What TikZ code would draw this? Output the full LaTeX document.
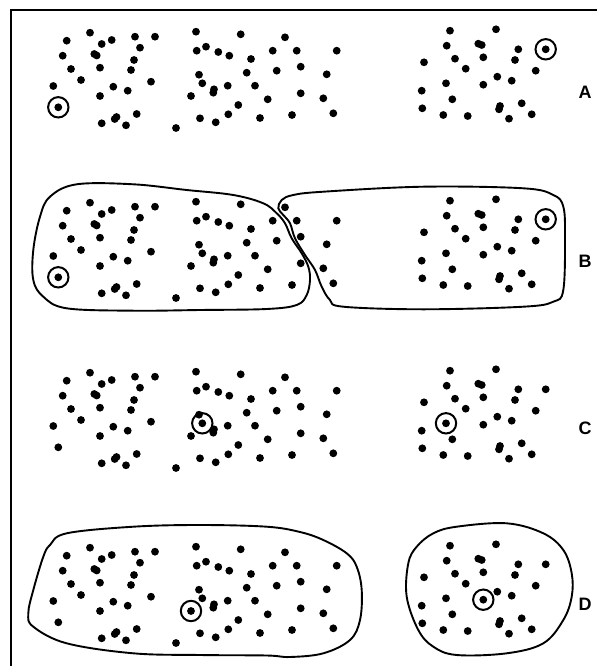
\documentclass[tikz,border=0pt]{standalone}
\usepackage{fontspec}
\setmainfont{Liberation Sans}
\begin{document}
\begin{tikzpicture}[x=1pt,y=-1pt,
  dotmark/.style={fill=black},
  ring/.style={draw=black,line width=2pt},
  blob/.style={draw=black,line width=1.9pt},
  frameline/.style={draw=black,line width=2pt},
  panellabel/.style={font=\fontsize{18}{18}\selectfont\bfseries,inner sep=0pt}]
\useasboundingbox (0,0) rectangle (597,666);
\fill[white] (0,0) rectangle (597,666);
\draw[frameline] (11,666) -- (11,10) -- (597,10);
\def\dotlist{90/32.7, 66.7/40.7, 101.7/44, 111.7/40, 135/36.7, 155/36.7, 62.7/55.7, 94.3/54, 96.7/55.5, 140/47.7, 134/60, 71/69, 100/67.7, 131/70, 81/80, 53.3/86, 113.3/86.7, 127.7/90.7, 151/81.7, 100/96, 58.3/107.3, 101.7/123.3, 114.7/119, 116.5/117, 126/125.3, 136.7/114, 176/128,
196/31.7, 196.7/50.7, 206/46.7, 218.3/52, 229.3/55.7, 240.7/34.3, 251/59, 272.7/50.7, 285/37.3, 296.7/50.7, 199/74.7, 202.3/83.3, 214/89.3, 213.3/92.7, 227.7/85.7, 246.7/72.7, 276.7/70.7, 255/85.7, 191/96, 267.7/99.3, 238.3/105, 200/118.3, 215.7/122.3, 228.3/114.3, 260/118, 292/115, 336.7/50.7, 300.7/66.7, 326.7/74.3, 300.7/93.3, 323.3/98.3, 333.3/113.3,
450/30.7, 496/29.3, 446.7/45.7, 478.3/43.7, 481.7/45, 518.3/49.3, 545.7/49.3, 424/62.3, 455/58.7, 483.3/57.3, 515/60, 465.7/68.7, 535.7/70.7, 497.3/76.7, 446/83.3, 483.3/84.7, 511.7/80.7, 421.7/90.7, 452.3/99.3, 422.3/108.3, 500/106, 499/109.3, 521.7/103.3, 443.3/115, 467.7/116, 509/118.7, 531.7/114.3}
% four panels of the same dots
\foreach \off/\ca/\cb in {0/{58.3,107.3}/{545.7,49.3}, 170/{58.3,107.3}/{545.7,49.3}, 340/{202.3,83.3}/{446,83.3}, 515/{191,96}/{483.3,84.7}}{
  \begin{scope}[yshift=-\off pt]
    \foreach \px/\py in \dotlist { \fill[dotmark] (\px,\py) circle[radius=3.9pt]; }
    \draw[ring] (\ca) circle[radius=10.2pt];
    \draw[ring] (\cb) circle[radius=10.2pt];
  \end{scope}
}
% panel B outlines
\draw[blob] plot[smooth cycle,tension=0.6] coordinates {(50,196.7) (76.7,184.3) (133.3,184.3) (186.7,190) (233.3,195) (263.3,203.3) (276.7,213.3) (285,223.3) (291.7,238.3) (301.7,253.3) (308.3,266.7) (310,280) (306.7,295) (296.7,305) (266.7,309) (200,310) (133.3,310.7) (66.7,308.3) (43.3,296.7) (33.3,280) (33.3,250) (40,216.7)};
\draw[blob] plot[smooth cycle,tension=0.6] coordinates {(293.3,195) (281.7,200) (278.3,208.3) (283.3,215) (290,223.3) (295,238.3) (305,255) (315,270) (321.7,286.7) (330,300) (343.3,306.7) (423.3,309.3) (523.3,306.7) (553.3,301.7) (563.3,290) (565,236.7) (563.3,206.7) (553.3,195) (523.3,188.3) (423.3,186.7) (323.3,191.7)};
% panel D outlines
\draw[blob] plot[smooth cycle,tension=0.6] coordinates {(50,545) (66.7,533.3) (133.3,526.7) (200,525) (266.7,526.7) (300,532) (323.3,540) (346.7,553.3) (356.7,566.7) (361.7,590) (360,620) (350,640) (323.3,653.3) (290,657) (266.7,655.5) (200,655) (133.3,653.3) (66.7,643.3) (33.3,626.7) (28.3,613.3) (33.3,590) (43.3,556.7)};
\draw[blob] plot[smooth cycle,tension=0.6] coordinates {(456.7,526.7) (506.7,523.3) (543.3,533.3) (563.3,550) (571.7,573.3) (571.7,596.7) (563.3,620) (543.3,643.3) (506.7,653.3) (456.7,655) (433.3,646.7) (418.3,630) (406.7,596.7) (408.3,563.3) (416.7,546.7) (433.3,533.3)};
% labels
\node[panellabel] (la) at (585,92) {A};
\node[panellabel] (lb) at (585,261) {B};
\node[panellabel] (lc) at (585,428) {C};
\node[panellabel] (ld) at (585,604) {D};
\end{tikzpicture}
\end{document}
